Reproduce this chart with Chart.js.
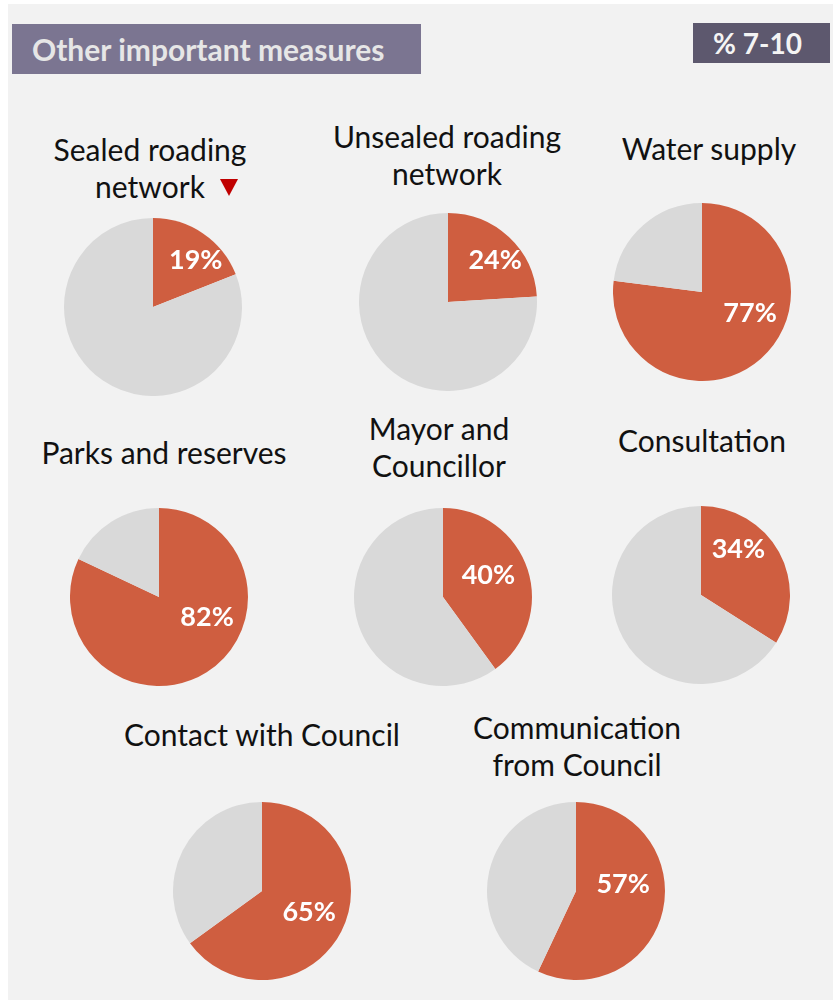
<!DOCTYPE html>
<html>
<head>
<meta charset="utf-8">
<title>Other important measures</title>
<script src="https://cdn.jsdelivr.net/npm/chart.js@4.4.1/dist/chart.umd.min.js"></script>
<style>
    body {
        margin: 0;
        background: #ffffff;
        font-family: Lato, "Open Sans", sans-serif;
    }
    .panel {
        position: absolute;
        left: 8px;
        top: 4px;
        width: 825px;
        height: 996px;
        background: #f2f2f2;
    }
    .heading {
        position: absolute;
        left: 12px;
        top: 24px;
        width: 409px;
        height: 50px;
        background: #7b7591;
        color: #e6e6e6;
        font-weight: bold;
        font-size: 30px;
        line-height: 50px;
        box-sizing: border-box;
        padding-left: 20px;
        white-space: nowrap;
    }
    .badge {
        position: absolute;
        left: 693px;
        top: 23px;
        width: 137px;
        height: 40px;
        background: #5d586e;
        color: #f4f4f4;
        font-weight: bold;
        font-size: 28px;
        line-height: 40px;
        text-align: center;
        text-indent: -8px;
    }
    .pie-title {
        position: absolute;
        width: 340px;
        text-align: center;
        color: #111111;
        font-size: 30px;
        line-height: 37px;
        white-space: nowrap;
    }
    /* drop marker sits after the text without shifting its centring */
    .down-flag {
        display: inline-block;
        width: 0;
        height: 0;
        margin-left: 15px;
        margin-right: -33px;
        border-left: 9px solid transparent;
        border-right: 9px solid transparent;
        border-top: 17px solid #c00000;
        vertical-align: 2px;
    }
    canvas.pie {
        position: absolute;
    }
</style>
</head>
<body>
<div class="panel"></div>
<div class="heading">Other important measures</div>
<div class="badge">% 7-10</div>
<div id="charts"></div>

<script>
// Measures and the share rating them 7-10
const measures = [
    ['Sealed roading', 'network'],
    ['Unsealed roading', 'network'],
    ['Water supply'],
    ['Parks and reserves'],
    ['Mayor and', 'Councillor'],
    ['Consultation'],
    ['Contact with Council'],
    ['Communication', 'from Council']
];
const scores = [19, 24, 77, 82, 40, 34, 65, 57];
const sliceLabels = ['7-10', 'Other'];

// Measures flagged with a significant drop
const droppedFlags = [true, false, false, false, false, false, false, false];

// Layout: pie centres, title baseline of the last line, label offset (fraction of radius)
const pieCentres = [
    [153, 307], [448, 302], [702, 292],
    [159, 597], [443, 597], [701, 595],
    [262, 891], [576, 891]
];
const titleBaselines = [196, 183, 158, 462, 475, 450, 744, 774];
const titleCentres = [150, 447, 709, 164, 439, 702, 262, 577];
const labelOffsets = [
    [0.48, -0.52], [0.53, -0.47], [0.54, 0.24],
    [0.54, 0.23], [0.51, -0.24], [0.42, -0.51],
    [0.53, 0.24], [0.53, -0.07]
];

const PIE_SIZE = 178;
const LINE_H = 37;
const ORANGE = '#cf5e40';
const GREY = '#d9d9d9';

// Percentage label drawn on the 7-10 slice
const percentLabel = {
    id: 'percentLabel',
    afterDatasetsDraw(chart) {
        const arc = chart.getDatasetMeta(0).data[0];
        const off = chart.options.plugins.percentLabel.offset;
        const ctx = chart.ctx;
        ctx.save();
        ctx.fillStyle = '#ffffff';
        ctx.font = 'bold 27px Lato, "Open Sans", sans-serif';
        ctx.textAlign = 'center';
        ctx.textBaseline = 'middle';
        ctx.fillText(chart.data.datasets[0].data[0] + '%',
            arc.x + off[0] * arc.outerRadius,
            arc.y + off[1] * arc.outerRadius);
        ctx.restore();
    }
};

const holder = document.getElementById('charts');

measures.forEach(function(lines, i) {
    // Title above the pie
    const title = document.createElement('div');
    title.className = 'pie-title';
    title.style.left = (titleCentres[i] - 170) + 'px';
    title.style.top = (titleBaselines[i] - 28 - (lines.length - 1) * LINE_H) + 'px';
    title.innerHTML = lines.map(function(line, k) {
        const flag = (droppedFlags[i] && k === lines.length - 1) ? '<span class="down-flag"></span>' : '';
        return line + flag;
    }).join('<br>');
    holder.appendChild(title);

    // Pie canvas
    const canvas = document.createElement('canvas');
    canvas.className = 'pie';
    canvas.width = PIE_SIZE;
    canvas.height = PIE_SIZE;
    canvas.style.left = (pieCentres[i][0] - PIE_SIZE / 2) + 'px';
    canvas.style.top = (pieCentres[i][1] - PIE_SIZE / 2) + 'px';
    holder.appendChild(canvas);

    new Chart(canvas.getContext('2d'), {
        type: 'pie',
        data: {
            labels: sliceLabels,
            datasets: [{
                data: [scores[i], 100 - scores[i]],
                backgroundColor: [ORANGE, GREY],
                borderWidth: 0
            }]
        },
        options: {
            responsive: false,
            animation: false,
            layout: { padding: 0 },
            plugins: {
                legend: { display: false },
                tooltip: { enabled: false },
                percentLabel: { offset: labelOffsets[i] }
            }
        },
        plugins: [percentLabel]
    });
});
</script>
</body>
</html>
